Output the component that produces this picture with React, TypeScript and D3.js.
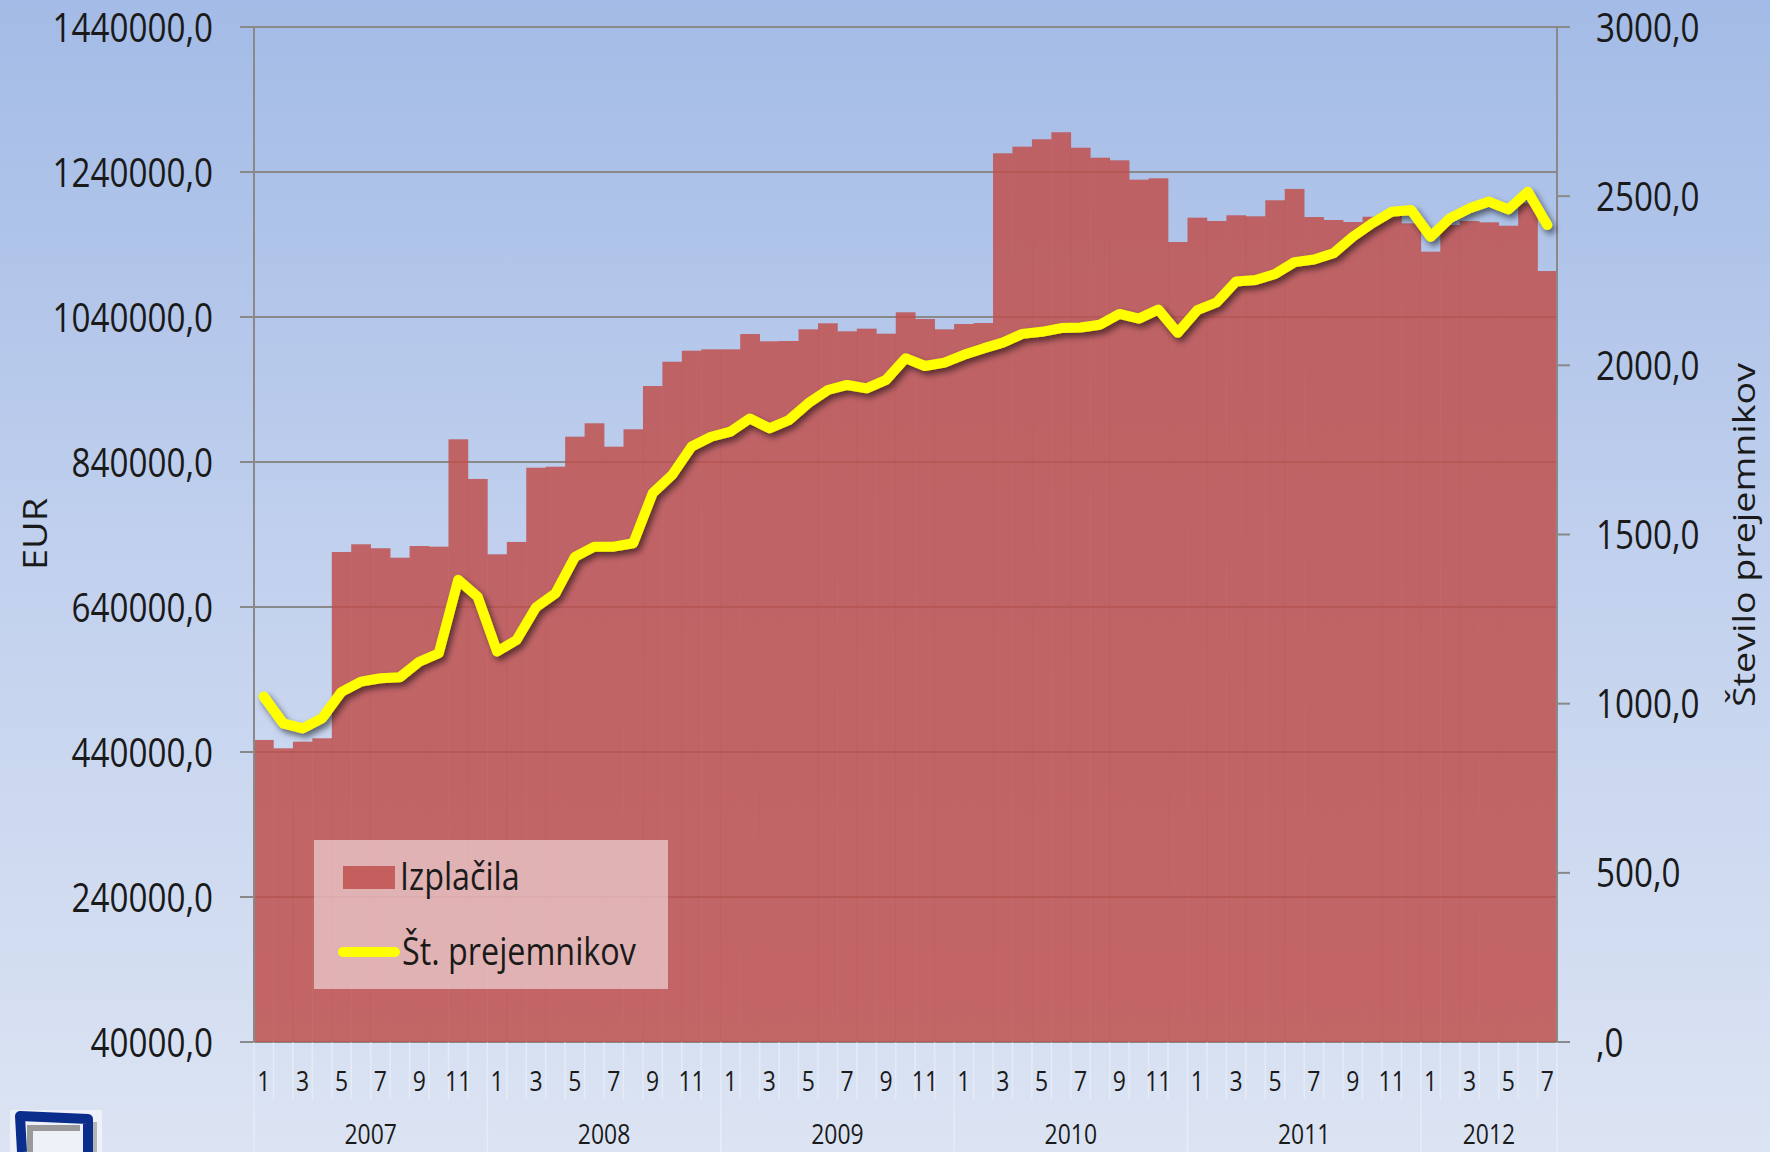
import React, { useEffect } from 'react';
import * as d3 from 'd3';

// Izplačila (EUR), monthly 2007-01 .. 2012-07
const payments2007 = [456600, 445100, 454200, 458900, 715900, 726500, 721000, 708000, 724100, 723200, 871300, 816600];
const payments2008 = [712700, 729700, 832100, 833500, 874900, 893400, 861100, 885100, 944800, 978300, 993500, 995400];
const payments2009 = [995400, 1016500, 1006500, 1006900, 1023000, 1031300, 1020300, 1023900, 1017000, 1046500, 1037200, 1023000];
const payments2010 = [1030300, 1031700, 1265800, 1274900, 1285100, 1294800, 1273500, 1259700, 1256100, 1229400, 1231300, 1143400];
const payments2011 = [1177000, 1172400, 1180300, 1178900, 1201000, 1216600, 1177900, 1173800, 1171000, 1178300, 1181700, 1169200];
const payments2012 = [1130100, 1166900, 1172400, 1170600, 1165900, 1196800, 1103400];

// Št. prejemnikov
const recipients2007 = [1021, 942, 927, 957, 1035, 1065, 1075, 1078, 1124, 1149, 1366, 1316];
const recipients2008 = [1154, 1188, 1285, 1326, 1434, 1464, 1464, 1474, 1622, 1676, 1760, 1789];
const recipients2009 = [1804, 1843, 1814, 1838, 1888, 1927, 1942, 1932, 1957, 2021, 1998, 2008];
const recipients2010 = [2031, 2050, 2067, 2093, 2099, 2110, 2112, 2120, 2152, 2138, 2165, 2096];
const recipients2011 = [2163, 2186, 2248, 2252, 2270, 2305, 2313, 2331, 2380, 2420, 2454, 2459];
const recipients2012 = [2380, 2435, 2464, 2484, 2461, 2513, 2415];

const years = ['2007', '2008', '2009', '2010', '2011', '2012'];
const payments = [payments2007, payments2008, payments2009, payments2010, payments2011, payments2012];
const recipients = [recipients2007, recipients2008, recipients2009, recipients2010, recipients2011, recipients2012];

const leftTicks = [40000, 240000, 440000, 640000, 840000, 1040000, 1240000, 1440000];
const rightTicks = [0, 500, 1000, 1500, 2000, 2500, 3000];

interface Point {
  key: string;
  year: string;
  month: number;
  eur: number;
  count: number;
}

const points: Point[] = [];
years.forEach((yr, yi) => {
  payments[yi].forEach((v, mi) => {
    points.push({ key: `${yr}-${mi + 1}`, year: yr, month: mi + 1, eur: v, count: recipients[yi][mi] });
  });
});

const W = 1770;
const H = 1152;
const left = 254;
const right = 1557;
const top = 27;
const bottom = 1042;

const fmt = (v: number) => (v === 0 ? ',0' : v.toFixed(1).replace('.', ','));
const FONT = '"Open Sans", "Noto Sans", sans-serif';

const App: React.FC = () => {
  useEffect(() => {
    document.body.style.margin = '0';
  }, []);

  const x = d3.scaleBand<string>().domain(points.map((p) => p.key)).range([left, right]).padding(0);
  const yL = d3.scaleLinear().domain([40000, 1440000]).range([bottom, top]);
  const yR = d3.scaleLinear().domain([0, 3000]).range([bottom, top]);
  const bw = x.bandwidth();

  const line = d3
    .line<Point>()
    .x((p) => (x(p.key) as number) + bw / 2)
    .y((p) => yR(p.count));

  const yearSpans = years.map((yr) => {
    const ps = points.filter((p) => p.year === yr);
    const x0 = x(ps[0].key) as number;
    const x1 = (x(ps[ps.length - 1].key) as number) + bw;
    return { yr, x0, x1 };
  });

  return (
    <svg width={W} height={H} style={{ position: 'absolute', left: 0, top: 0, display: 'block' }} fontFamily={FONT}>
      <defs>
        <linearGradient id="bg" x1="0" y1="0" x2="0" y2="1">
          <stop offset="0" stopColor="#a3bbe6" />
          <stop offset="0.5" stopColor="#c2d1ee" />
          <stop offset="1" stopColor="#dce4f3" />
        </linearGradient>
        <filter id="shadow" x="-5%" y="-5%" width="110%" height="120%">
          <feDropShadow dx="3" dy="4" stdDeviation="3" floodColor="#000" floodOpacity="0.55" />
        </filter>
      </defs>
      <rect x={0} y={0} width={W} height={H} fill="url(#bg)" />

      {/* gridlines */}
      {leftTicks.map((t) => (
        <g key={`g${t}`}>
          <line x1={left} x2={right} y1={yL(t)} y2={yL(t)} stroke="#898989" strokeWidth={2} />
          <line x1={240} x2={left} y1={yL(t)} y2={yL(t)} stroke="#898989" strokeWidth={2} />
        </g>
      ))}

      {/* bars */}
      {points.map((p) => (
        <rect
          key={`b${p.key}`}
          x={x(p.key) as number}
          y={yL(p.eur)}
          width={bw + 0.3}
          height={bottom - yL(p.eur)}
          fill="#c0504d"
          fillOpacity={0.85}
        />
      ))}

      {/* axes */}
      <line x1={left} x2={left} y1={top} y2={bottom} stroke="#898989" strokeWidth={2} />
      <line x1={right} x2={right} y1={top} y2={bottom} stroke="#898989" strokeWidth={2} />
      {rightTicks.map((t) => (
        <line key={`rt${t}`} x1={right} x2={1570} y1={yR(t)} y2={yR(t)} stroke="#898989" strokeWidth={2} />
      ))}

      {/* category separators */}
      {points.map((p) => (
        <line
          key={`s${p.key}`}
          x1={x(p.key) as number}
          x2={x(p.key) as number}
          y1={bottom}
          y2={p.month === 1 ? H : 1099}
          stroke="#ffffff"
          strokeOpacity={0.35}
          strokeWidth={1.5}
        />
      ))}
      <line x1={right} x2={right} y1={bottom} y2={H} stroke="#ffffff" strokeOpacity={0.35} strokeWidth={1.5} />

      {/* recipients line */}
      <path
        d={line(points) || ''}
        fill="none"
        stroke="#ffff00"
        strokeWidth={10}
        strokeLinejoin="round"
        strokeLinecap="round"
        filter="url(#shadow)"
      />

      {/* left axis labels */}
      {leftTicks.map((t) => (
        <text
          key={`lt${t}`}
          transform={`translate(213,${yL(t) + 14.5}) scale(0.83,1)`}
          textAnchor="end"
          fontSize={40}
          fill="#1a1a1a"
        >
          {fmt(t)}
        </text>
      ))}

      {/* right axis labels */}
      {rightTicks.map((t) => (
        <text
          key={`rl${t}`}
          transform={`translate(1596,${yR(t) + 14.5}) scale(0.83,1)`}
          textAnchor="start"
          fontSize={40}
          fill="#1a1a1a"
        >
          {fmt(t)}
        </text>
      ))}

      {/* month labels */}
      {points
        .filter((p) => p.month % 2 === 1)
        .map((p) => (
          <text
            key={`m${p.key}`}
            transform={`translate(${(x(p.key) as number) + bw / 2},1090.5) scale(0.85,1)`}
            textAnchor="middle"
            fontSize={27}
            fill="#1a1a1a"
          >
            {p.month}
          </text>
        ))}

      {/* year labels */}
      {yearSpans.map((s) => (
        <text
          key={`y${s.yr}`}
          transform={`translate(${(s.x0 + s.x1) / 2},1144) scale(0.85,1)`}
          textAnchor="middle"
          fontSize={27}
          fill="#1a1a1a"
        >
          {s.yr}
        </text>
      ))}

      {/* axis titles */}
      <text transform="translate(47,534) rotate(-90) scale(1,0.84)" textAnchor="middle" fontSize={38} fill="#1a1a1a">
        EUR
      </text>
      <text
        transform="translate(1755,535) rotate(-90) scale(1,0.84)"
        textAnchor="middle"
        fontSize={37}
        fill="#1a1a1a"
        textLength={344}
        lengthAdjust="spacingAndGlyphs"
      >
        Število prejemnikov
      </text>

      {/* legend */}
      <g>
        <rect x={314} y={840} width={354} height={149} fill="#ffffff" fillOpacity={0.5} />
        <rect x={343} y={866} width={52} height={23} fill="#c0504d" fillOpacity={0.85} />
        <text transform="translate(400,890) scale(0.85,1)" fontSize={38} fill="#1a1a1a">
          Izplačila
        </text>
        <line x1={343} x2={395} y1={952} y2={952} stroke="#ffff00" strokeWidth={10} strokeLinecap="round" />
        <text transform="translate(402,965) scale(0.85,1)" fontSize={38} fill="#1a1a1a">
          Št. prejemnikov
        </text>
      </g>

      {/* logo fragment, bottom left */}
      <g>
        <rect x={10} y={1110} width={92} height={42} fill="#eef2f8" />
        <path d="M30,1152 L30,1128 L80,1128" fill="none" stroke="#9a9a9a" strokeWidth={6} />
        <path d="M95,1122 L95,1152" fill="none" stroke="#b5b5b5" strokeWidth={4} />
        <path d="M22,1152 L20,1116 L88,1119 L88,1152" fill="none" stroke="#0b2d8c" strokeWidth={10} strokeLinejoin="round" />
      </g>
    </svg>
  );
};

export default App;
